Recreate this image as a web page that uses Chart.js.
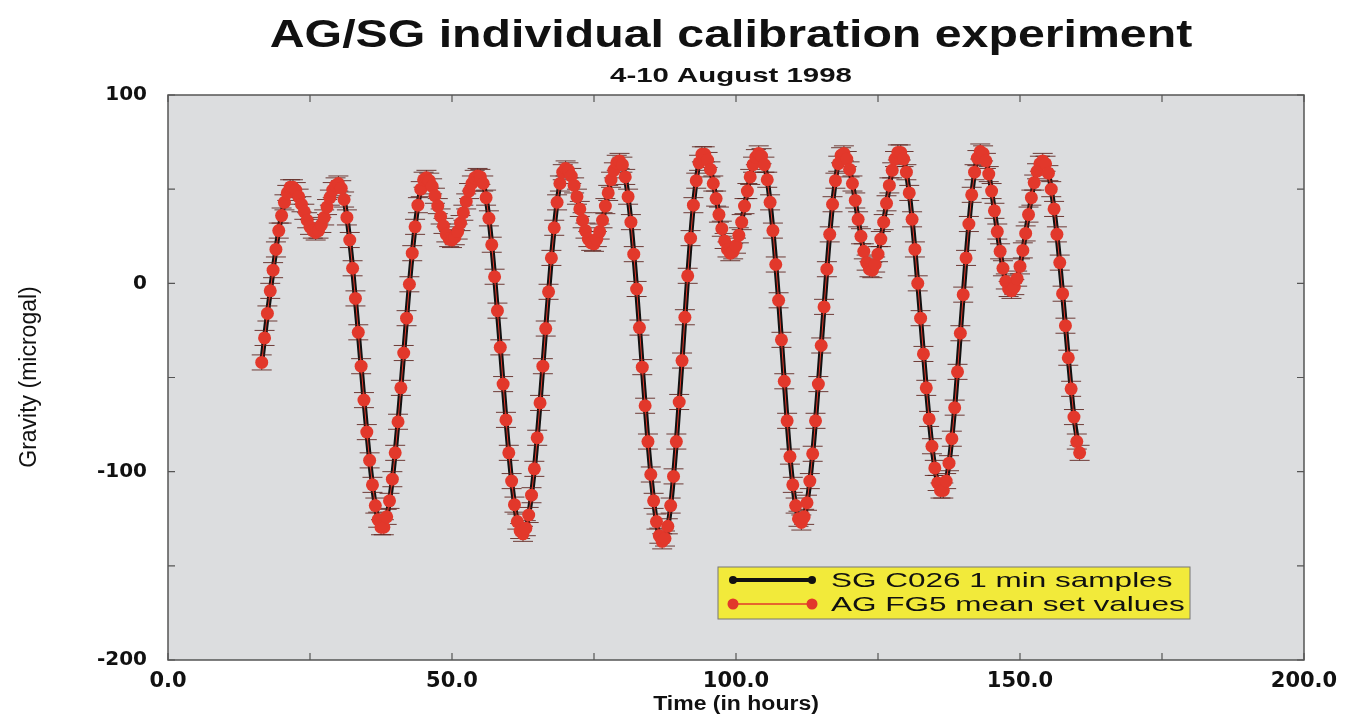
<!DOCTYPE html>
<html>
<head>
<meta charset="utf-8">
<title>AG/SG individual calibration experiment</title>
<script src="https://cdn.jsdelivr.net/npm/chart.js@4.4.1/dist/chart.umd.min.js"></script>
<style>
  html, body { margin: 0; padding: 0; background: #fff; }
  #wrap { position: relative; width: 1347px; height: 717px; }
</style>
</head>
<body>
<div id="wrap"><canvas id="chart"></canvas></div>
<script>
// AG FG5 mean set values, every half hour from t = 16.5 h
const AG_START = 16.5;
const AG_STEP = 0.5;
const AG_VALUES = [
  -42, -29, -16, -4, 7, 18, 28, 36, 43, 48,
  51, 51, 49.5, 46, 42, 38, 33.5, 30, 28, 27,
  28, 31, 35, 40.5, 45.5, 49.5, 52, 53, 50.5, 44.5,
  35, 23, 8, -8, -26, -44, -62, -79, -94, -107,
  -118, -125.5, -129.5, -129.5, -124, -115.5, -104, -90, -73.5, -55.5,
  -37, -18.5, -0.5, 16, 30, 41.5, 50, 55, 56, 54.5,
  51.5, 46.5, 41, 35.5, 30.5, 26, 23.5, 23, 24.5, 27.5,
  32, 37.5, 43.5, 49, 53, 56, 57, 56.5, 53, 45.5,
  34.5, 20.5, 3.5, -14.5, -34, -53.5, -72.5, -90, -105, -117.5,
  -126.5, -131.5, -133, -130, -123, -112.5, -98.5, -82, -63.5, -44,
  -24, -4.5, 13.5, 29.5, 43, 53, 59, 61, 60, 57,
  52, 46, 39.5, 33.5, 28, 23.5, 21.5, 21, 23.5, 27.5,
  33.5, 41, 48, 55, 60, 64, 65, 63, 56.5, 46,
  32.5, 15.5, -3, -23.5, -44.5, -65, -84, -101.5, -115.5, -126.5,
  -134, -137, -135.5, -129, -118, -102.5, -84, -63, -41, -18,
  4, 24, 41.5, 54.5, 64, 68.5, 68.5, 65.5, 60.5, 53,
  45, 36.5, 29, 22.5, 18, 16, 17, 20, 25.5, 32.5,
  41, 49, 56.5, 63, 67, 69, 67.5, 63, 55, 43,
  28, 10, -9, -30, -52, -73, -92, -107, -118, -125,
  -127, -124, -116.5, -105, -90.5, -73, -53.5, -33, -12.5, 7.5,
  26, 42, 54.5, 63.5, 68, 69, 66, 60.5, 53, 44,
  34, 25, 17, 11, 7.5, 7, 10, 15.5, 23.5, 32.5,
  42.5, 52, 60, 66, 69.5, 69.5, 66, 59, 48, 34,
  18, 0, -18.5, -37.5, -55.5, -72, -86.5, -98, -106, -110,
  -110, -105, -95.5, -82.5, -66, -47, -26.5, -6, 13.5, 31.5,
  47, 59, 66.5, 70, 69, 65, 58, 49, 38.5, 27.5,
  17, 8, 1, -3, -4, -2, 2.5, 9, 17.5, 26.5,
  36.5, 45.5, 53.5, 59.5, 63.5, 65, 63.5, 58.5, 50, 39.5,
  26, 11, -5.5, -22.5, -39.5, -56, -71, -84, -90
];
const AG_ERR = 4;

// SG C026, read hourly from t = 16.5 h
const SG_START = 16.5;
const SG_STEP = 1;
const SG_VALUES = [
  -42, -16, 7, 28, 43,
  51, 49.5, 42, 33.5, 28,
  28, 35, 45.5, 52, 50.5,
  35, 8, -26, -62, -94,
  -118, -129.5, -124, -104, -73.5,
  -37, -0.5, 30, 50, 56,
  51.5, 41, 30.5, 23.5, 24.5,
  32, 43.5, 53, 57, 53,
  34.5, 3.5, -34, -72.5, -105,
  -126.5, -133, -123, -98.5, -63.5,
  -24, 13.5, 43, 59, 60,
  52, 39.5, 28, 21.5, 23.5,
  33.5, 48, 60, 65, 56.5,
  32.5, -3, -44.5, -84, -115.5,
  -134, -135.5, -118, -84, -41,
  4, 41.5, 64, 68.5, 60.5,
  45, 29, 18, 17, 25.5,
  41, 56.5, 67, 67.5, 55,
  28, -9, -52, -92, -118,
  -127, -116.5, -90.5, -53.5, -12.5,
  26, 54.5, 68, 66, 53,
  34, 17, 7.5, 10, 23.5,
  42.5, 60, 69.5, 66, 48,
  18, -18.5, -55.5, -86.5, -106,
  -110, -95.5, -66, -26.5, 13.5,
  47, 66.5, 69, 58, 38.5,
  17, 1, -4, 2.5, 17.5,
  36.5, 53.5, 63.5, 63.5, 50,
  26, -5.5, -39.5, -71, -90
];

const TITLE = 'AG/SG individual calibration experiment';
const SUBTITLE = '4-10 August 1998';
const X_TITLE = 'Time (in hours)';
const Y_TITLE = 'Gravity (microgal)';
const SG_LABEL = 'SG C026 1 min samples';
const AG_LABEL = 'AG FG5 mean set values';

const RED = '#e2382b';

const agPoints = AG_VALUES.map((v, i) => ({ x: AG_START + i * AG_STEP, y: v }));
const sgPoints = SG_VALUES.map((v, i) => ({ x: SG_START + i * SG_STEP, y: v }));

function wideText(ctx, text, x, y, font, sx, align) {
  ctx.save();
  ctx.font = font;
  ctx.translate(x, y);
  ctx.scale(sx, 1);
  ctx.textAlign = align || 'center';
  ctx.fillText(text, 0, 0);
  ctx.restore();
}

const decor = {
  id: 'decor',
  beforeDraw(chart) {
    const { ctx, chartArea: a } = chart;
    ctx.save();
    ctx.fillStyle = '#dcdddf';
    ctx.fillRect(a.left, a.top, a.right - a.left, a.bottom - a.top);
    ctx.restore();
  },
  beforeDatasetDraw(chart, args) {
    if (args.index !== 0) return;
    const { ctx } = chart;
    const ys = chart.scales.y;
    ctx.save();
    ctx.strokeStyle = 'rgba(90,30,25,0.85)';
    ctx.lineWidth = 1;
    args.meta.data.forEach((pt, i) => {
      const v = AG_VALUES[i];
      const y1 = ys.getPixelForValue(v + AG_ERR);
      const y2 = ys.getPixelForValue(v - AG_ERR);
      ctx.beginPath();
      ctx.moveTo(pt.x, y1); ctx.lineTo(pt.x, y2);
      ctx.moveTo(pt.x - 10, y1); ctx.lineTo(pt.x + 10, y1);
      ctx.moveTo(pt.x - 10, y2); ctx.lineTo(pt.x + 10, y2);
      ctx.stroke();
    });
    ctx.restore();
  },
  afterDraw(chart) {
    const { ctx, chartArea: a } = chart;
    const xs = chart.scales.x, ys = chart.scales.y;
    ctx.save();
    // frame
    ctx.strokeStyle = '#555';
    ctx.lineWidth = 1.5;
    ctx.strokeRect(a.left, a.top, a.right - a.left, a.bottom - a.top);
    // inward ticks on all four sides
    ctx.lineWidth = 1.2;
    ctx.beginPath();
    xs.ticks.forEach(t => {
      const px = xs.getPixelForValue(t.value);
      ctx.moveTo(px, a.bottom); ctx.lineTo(px, a.bottom - 7);
      ctx.moveTo(px, a.top); ctx.lineTo(px, a.top + 7);
    });
    ys.ticks.forEach(t => {
      const py = ys.getPixelForValue(t.value);
      ctx.moveTo(a.left, py); ctx.lineTo(a.left + 7, py);
      ctx.moveTo(a.right, py); ctx.lineTo(a.right - 7, py);
    });
    ctx.stroke();

    // titles
    ctx.fillStyle = '#111';
    ctx.textBaseline = 'alphabetic';
    wideText(ctx, TITLE, 731, 47, 'bold 38px "Liberation Sans", Arial, sans-serif', 1.27);
    wideText(ctx, SUBTITLE, 731, 82, 'bold 21px "Liberation Sans", Arial, sans-serif', 1.4);
    wideText(ctx, X_TITLE, 736, 710, 'bold 20px "Liberation Sans", Arial, sans-serif', 1.15);

    ctx.save();
    ctx.translate(30, 377);
    ctx.rotate(-Math.PI / 2);
    ctx.font = '23px "Liberation Sans", Arial, sans-serif';
    ctx.textAlign = 'center';
    ctx.textBaseline = 'middle';
    ctx.fillText(Y_TITLE, 0, 0);
    ctx.restore();

    // legend box
    const lx = 718, ly = 567, lw = 472, lh = 52;
    ctx.fillStyle = '#f2ea3a';
    ctx.fillRect(lx, ly, lw, lh);
    ctx.strokeStyle = '#777';
    ctx.lineWidth = 1;
    ctx.strokeRect(lx, ly, lw, lh);

    const r1 = 580, r2 = 604;
    ctx.strokeStyle = '#111';
    ctx.lineWidth = 4;
    ctx.beginPath(); ctx.moveTo(733, r1); ctx.lineTo(812, r1); ctx.stroke();
    ctx.fillStyle = '#111';
    [733, 812].forEach(px => { ctx.beginPath(); ctx.arc(px, r1, 4, 0, Math.PI * 2); ctx.fill(); });

    ctx.strokeStyle = RED;
    ctx.lineWidth = 1.5;
    ctx.beginPath(); ctx.moveTo(733, r2); ctx.lineTo(812, r2); ctx.stroke();
    ctx.fillStyle = RED;
    [733, 812].forEach(px => { ctx.beginPath(); ctx.arc(px, r2, 5.5, 0, Math.PI * 2); ctx.fill(); });

    ctx.fillStyle = '#111';
    ctx.textBaseline = 'middle';
    wideText(ctx, SG_LABEL, 831, r1 + 1, '21px "Liberation Sans", Arial, sans-serif', 1.5, 'left');
    wideText(ctx, AG_LABEL, 831, r2 + 1, '21px "Liberation Sans", Arial, sans-serif', 1.5, 'left');
    ctx.restore();
  }
};

new Chart(document.getElementById('chart'), {
  type: 'line',
  data: {
    datasets: [{
      label: AG_LABEL,
      data: agPoints,
      borderColor: RED,
      borderWidth: 1,
      backgroundColor: RED,
      pointRadius: 6.5,
      pointBorderWidth: 0,
      pointBackgroundColor: RED,
      showLine: true,
      tension: 0
    }, {
      label: SG_LABEL,
      data: sgPoints,
      borderColor: '#111',
      borderWidth: 5,
      pointRadius: 2.5,
      pointBackgroundColor: '#111',
      pointBorderWidth: 0,
      cubicInterpolationMode: 'monotone'
    }]
  },
  options: {
    responsive: true,
    maintainAspectRatio: false,
    animation: false,
    layout: { padding: { top: 95, right: 43, left: 0, bottom: 0 } },
    plugins: {
      legend: { display: false },
      title: { display: false },
      tooltip: { enabled: false }
    },
    scales: {
      x: {
        type: 'linear',
        min: 0,
        max: 200,
        afterFit: s => { s.height = 57; },
        grid: { display: false, drawTicks: false },
        border: { display: false },
        ticks: {
          stepSize: 25,
          autoSkip: false,
          maxRotation: 0,
          padding: 9,
          color: '#111',
          font: { family: '"DejaVu Sans", sans-serif', size: 21, weight: 'bold' },
          callback: v => (v % 50 === 0 ? v.toFixed(1) : '')
        }
      },
      y: {
        min: -200,
        max: 100,
        afterFit: s => { s.width = 168; },
        grid: { display: false, drawTicks: false },
        border: { display: false },
        ticks: {
          stepSize: 50,
          autoSkip: false,
          padding: 21,
          color: '#111',
          font: { family: '"DejaVu Sans", sans-serif', size: 20, weight: 'bold' },
          callback: v => (v % 100 === 0 ? String(v) : '')
        }
      }
    }
  },
  plugins: [decor]
});
</script>
</body>
</html>
